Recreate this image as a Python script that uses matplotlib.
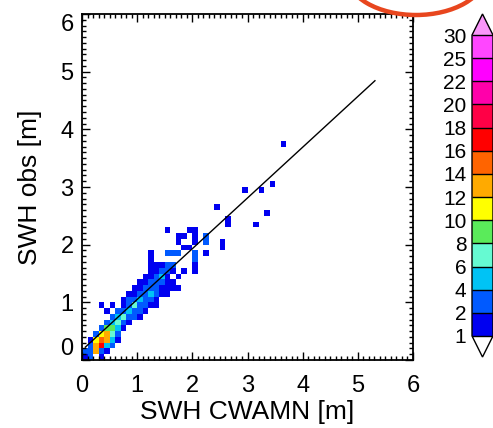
import numpy as np
import matplotlib
matplotlib.use("Agg")
import matplotlib.pyplot as plt
from matplotlib.colors import ListedColormap, BoundaryNorm
from matplotlib.cm import ScalarMappable
from matplotlib.patches import Ellipse
from matplotlib.ticker import MultipleLocator

plt.rcParams['font.family'] = ['Liberation Sans', 'DejaVu Sans']

# ---- data: 2-D histogram cells (bin index of 0.1 m, count) ----
bin_size = 0.1
cell_i = [0, 1, 3,
          0, 1, 2, 3, 4,
          1, 2, 3, 4, 5,
          1, 2, 3, 4, 5, 6,
          2, 3, 4, 5, 6,
          3, 4, 5, 6, 7,
          4, 5, 6, 7, 8,
          5, 6, 7, 8, 9, 10,
          4, 6, 7, 8, 9, 10, 11,
          3, 5, 7, 8, 9, 10, 11, 12, 13,
          7, 8, 9, 10, 11, 12, 13,
          8, 9, 10, 11, 12, 13, 14, 15,
          9, 10, 11, 12, 13, 14, 15, 16, 17,
          10, 11, 12, 13, 14, 15, 16,
          11, 12, 13, 14, 15, 17,
          12, 13, 14, 15, 16, 18, 20,
          12, 13, 14, 15, 16, 20,
          12, 20,
          12, 15, 16, 17, 20, 22,
          18, 19, 25,
          17, 20, 22, 25,
          17, 18, 20, 22,
          15, 19, 20,
          26, 31,
          26,
          33,
          24,
          29, 32,
          34,
          36]
cell_j = [0, 0, 0,
          1, 1, 1, 1, 1,
          2, 2, 2, 2, 2,
          3, 3, 3, 3, 3, 3,
          4, 4, 4, 4, 4,
          5, 5, 5, 5, 5,
          6, 6, 6, 6, 6,
          7, 7, 7, 7, 7, 7,
          8, 8, 8, 8, 8, 8, 8,
          9, 9, 9, 9, 9, 9, 9, 9, 9,
          10, 10, 10, 10, 10, 10, 10,
          11, 11, 11, 11, 11, 11, 11, 11,
          12, 12, 12, 12, 12, 12, 12, 12, 12,
          13, 13, 13, 13, 13, 13, 13,
          14, 14, 14, 14, 14, 14,
          15, 15, 15, 15, 15, 15, 15,
          16, 16, 16, 16, 16, 16,
          17, 17,
          18, 18, 18, 18, 18, 18,
          19, 19, 19,
          20, 20, 20, 20,
          21, 21, 21, 21,
          22, 22, 22,
          23, 23,
          24,
          25,
          26,
          29, 29,
          30,
          37]
cell_n = [1, 3, 1,
          3, 3, 12, 3, 1,
          2, 13, 17, 5, 2,
          1, 11, 14, 13, 4, 1,
          3, 10, 13, 7, 3,
          2, 8, 9, 5, 1,
          2, 5, 7, 3, 1,
          2, 5, 6, 3, 2, 1,
          1, 2, 3, 5, 3, 2, 1,
          1, 1, 1, 3, 6, 3, 2, 1, 1,
          1, 2, 3, 5, 3, 2, 1,
          1, 1, 3, 2, 5, 2, 1, 1,
          1, 1, 3, 2, 2, 1, 1, 1, 1,
          1, 1, 2, 3, 2, 1, 1,
          1, 1, 3, 5, 1, 1,
          1, 1, 2, 3, 1, 1, 1,
          1, 1, 1, 3, 3, 1,
          1, 3,
          1, 3, 3, 3, 3, 1,
          1, 1, 1,
          1, 1, 3, 1,
          1, 1, 1, 3,
          1, 1, 1,
          1, 1,
          1,
          1,
          1,
          1, 1,
          1,
          1]

# regression line
fit_intercept = 0.17
fit_slope = 0.88
fit_xrange = [0.06, 5.31]

levels = [1, 2, 4, 6, 8, 10, 12, 14, 16, 18, 20, 22, 25, 30]
level_colors = ['#0000f0', '#005aff', '#00c3f5', '#66fad2', '#5aeb5a',
                '#ffff00', '#ffaa00', '#ff6400', '#ff0000', '#ff0046',
                '#ff00aa', '#ff00ff', '#ff46ff']
over_color = '#fa96fa'
under_color = 'white'
axis_ticks = [0, 1, 2, 3, 4, 5, 6]

# ---- figure ----
W, H = 493, 428
fig = plt.figure(figsize=(W / 100, H / 100), dpi=100)
ax = fig.add_axes([82 / W, (H - 360) / H, (413 - 82) / W, (360 - 14) / H])

nb = 60
grid = np.zeros((nb, nb))
for i, j, n in zip(cell_i, cell_j, cell_n):
    grid[j, i] = n
edges = np.arange(nb + 1) * bin_size
cmap = ListedColormap(level_colors)
cmap.set_over(over_color)
cmap.set_under(under_color)
norm = BoundaryNorm(levels, cmap.N)
ax.pcolormesh(edges, edges, np.ma.masked_less(grid, 0.5), cmap=cmap, norm=norm)

fx = np.array(fit_xrange)
ax.plot(fx, fit_intercept + fit_slope * fx, color='black', lw=1.0)

ax.set_xlim(0, 6)
ax.set_ylim(0, 6)
ax.set_xticks(axis_ticks)
ax.set_yticks(axis_ticks)
ax.xaxis.set_minor_locator(MultipleLocator(0.1))
ax.yaxis.set_minor_locator(MultipleLocator(0.1))
ax.tick_params(which='both', direction='in', top=True, right=True, width=1.0, color='black')
ax.tick_params(which='major', length=6)
ax.tick_params(which='minor', length=3)
ax.tick_params(axis='x', which='major', labelsize=17, pad=11)
ax.tick_params(axis='y', which='major', labelsize=17, pad=6)
ylabels = ax.get_yticklabels()
ylabels[0].set_verticalalignment('bottom')
ylabels[-1].set_verticalalignment('top')
for s in ax.spines.values():
    s.set_linewidth(1.3)
ax.set_xlabel('SWH CWAMN [m]', fontsize=19, labelpad=2)
ax.set_ylabel('SWH obs [m]', fontsize=19, labelpad=13)

# ---- colorbar ----
cax = fig.add_axes([472 / W, (H - 357) / H, 21 / W, (357 - 14) / H])
sm = ScalarMappable(norm=norm, cmap=cmap)
cb = fig.colorbar(sm, cax=cax, extend='both', extendfrac=0.07,
                  drawedges=True, ticks=levels)
cb.outline.set_linewidth(1.0)
cb.dividers.set_linewidth(1.0)
cax.yaxis.set_ticks_position('left')
cax.tick_params(length=0, labelsize=15, pad=4)
cb.set_ticklabels([str(v) for v in levels])

# ---- red annotation arc at top right ----
arc = Ellipse((416 / W, (H + 25) / H), 138 / W, 80 / H, transform=fig.transFigure,
              fill=False, edgecolor='#e8461e', lw=3.2, clip_on=False)
fig.patches.append(arc)

fig.savefig('out.png', dpi=100)
